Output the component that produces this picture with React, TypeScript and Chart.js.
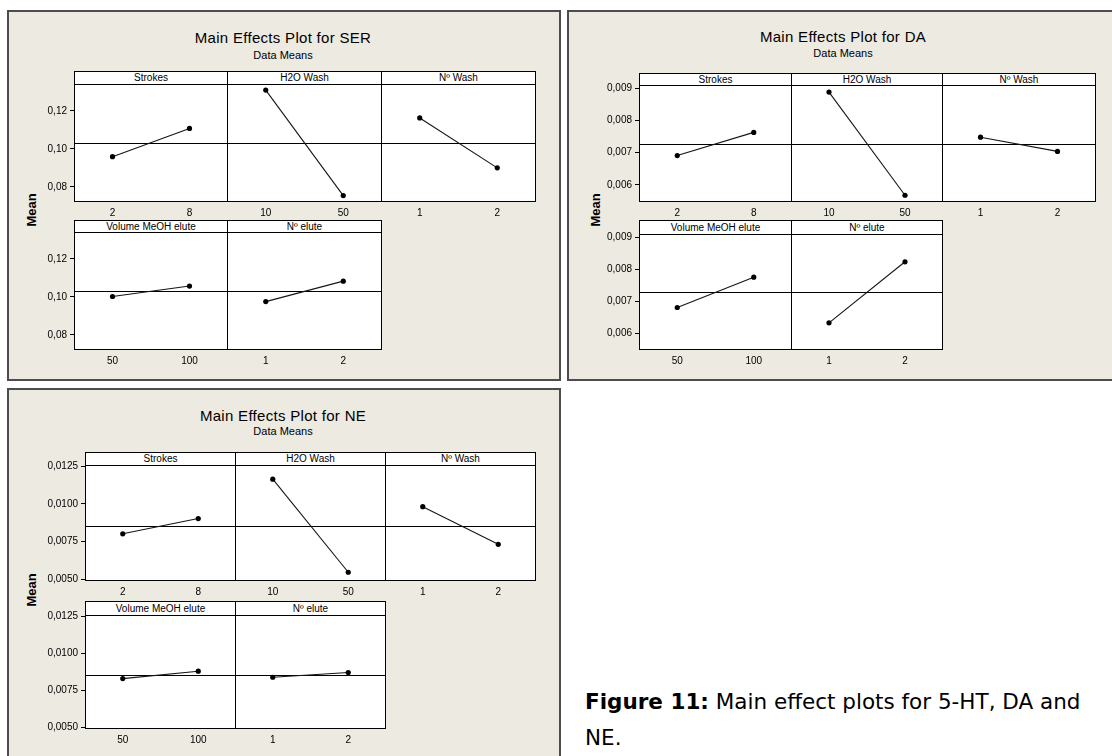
import React, { useEffect, useRef } from 'react';
import { Chart, registerables } from 'chart.js';

Chart.register(...registerables);

// ---------------- data ----------------
const factorNames = ['Strokes', 'H2O Wash', 'Nº Wash', 'Volume MeOH elute', 'Nº elute'];
const strokesLevels = ['2', '8'];
const h2oWashLevels = ['10', '50'];
const nWashLevels = ['1', '2'];
const volumeLevels = ['50', '100'];
const nEluteLevels = ['1', '2'];
const factorLevels = [strokesLevels, h2oWashLevels, nWashLevels, volumeLevels, nEluteLevels];

const serMeans = [
  [0.0959, 0.1108],
  [0.1310, 0.0754],
  [0.1163, 0.0900],
  [0.1002, 0.1057],
  [0.0975, 0.1083],
];
const daMeans = [
  [0.00691, 0.00763],
  [0.00888, 0.00568],
  [0.00748, 0.00704],
  [0.00680, 0.00775],
  [0.00632, 0.00823],
];
const neMeans = [
  [0.00802, 0.00903],
  [0.01164, 0.00547],
  [0.00982, 0.00732],
  [0.00829, 0.00879],
  [0.00838, 0.00870],
];

const serGrandMean = 0.1032;
const daGrandMean = 0.00727;
const neGrandMean = 0.00856;

const serTicks = [0.08, 0.10, 0.12];
const daTicks = [0.006, 0.007, 0.008, 0.009];
const neTicks = [0.0050, 0.0075, 0.0100, 0.0125];

const serRange = [0.0720, 0.1342];
const daRange = [0.00547, 0.00910];
const neRange = [0.00489, 0.01258];

// ---------------- layout ----------------
const TICK_FONT = { family: 'Liberation Sans, Arial, sans-serif', size: 10 };
const Y_W = 60;
const X_H = 20;
const BEIGE = '#EDEAE1';

type Fig = {
  title: string;
  means: number[][];
  grand: number;
  ticks: number[];
  range: number[];
  decimals: number;
  frame: { left: number; top: number; right: number; bottom: number };
  titleX: number;
  titleTop: number;
  subTop: number;
  meanX: number;
  meanY: number;
  colX: number[];
  rows: number[][];
};

const figures: Fig[] = [
  {
    title: 'Main Effects Plot for SER', means: serMeans, grand: serGrandMean, ticks: serTicks, range: serRange, decimals: 2,
    frame: { left: 7, top: 10, right: 561, bottom: 381 },
    titleX: 283, titleTop: 30, subTop: 49.5, meanX: 31, meanY: 210,
    colX: [74, 227, 381, 535], rows: [[71, 84, 201], [220, 232, 349]],
  },
  {
    title: 'Main Effects Plot for DA', means: daMeans, grand: daGrandMean, ticks: daTicks, range: daRange, decimals: 3,
    frame: { left: 567, top: 10, right: 1116, bottom: 381 },
    titleX: 843, titleTop: 28.5, subTop: 48, meanX: 595, meanY: 210,
    colX: [639, 791, 942, 1095], rows: [[73, 85, 201], [220, 234, 349]],
  },
  {
    title: 'Main Effects Plot for NE', means: neMeans, grand: neGrandMean, ticks: neTicks, range: neRange, decimals: 4,
    frame: { left: 7, top: 388, right: 561, bottom: 760 },
    titleX: 283, titleTop: 407.5, subTop: 426, meanX: 31, meanY: 590,
    colX: [85, 235, 385, 535], rows: [[452, 465, 580], [601, 615, 728]],
  },
];

type PanelProps = {
  left: number; top: number; width: number; height: number;
  padTop: number; showY: boolean;
  labels: string[]; values: number[]; grand: number;
  yTicks: number[]; yMin: number; yMax: number; decimals: number;
};

function Panel(p: PanelProps) {
  const ref = useRef<HTMLCanvasElement | null>(null);
  useEffect(() => {
    if (!ref.current) return;
    const grand = p.grand;
    const decor = {
      id: 'panelDecor',
      beforeDraw(chart: any) {
        const { ctx, chartArea: a } = chart;
        ctx.save();
        ctx.fillStyle = '#ffffff';
        ctx.fillRect(a.left, a.top, a.right - a.left, a.bottom - a.top);
        ctx.restore();
      },
      beforeDatasetsDraw(chart: any) {
        const { ctx, chartArea: a } = chart;
        const y = Math.round(chart.scales.y.getPixelForValue(grand)) + 0.5;
        ctx.save();
        ctx.strokeStyle = '#000';
        ctx.lineWidth = 1;
        ctx.beginPath();
        ctx.moveTo(a.left, y);
        ctx.lineTo(a.right, y);
        ctx.stroke();
        ctx.restore();
      },
      afterDraw(chart: any) {
        const { ctx, chartArea: a } = chart;
        ctx.save();
        ctx.strokeStyle = '#000';
        ctx.lineWidth = 1;
        ctx.strokeRect(a.left + 0.5, a.top + 0.5, a.right - a.left - 1, a.bottom - a.top - 1);
        ctx.restore();
      },
    };
    const chart = new Chart(ref.current, {
      type: 'line',
      data: {
        labels: p.labels,
        datasets: [{
          data: p.values,
          borderColor: '#151515',
          borderWidth: 1.1,
          pointRadius: 2.6,
          pointHoverRadius: 2.6,
          pointBackgroundColor: '#000',
          pointBorderWidth: 0,
          fill: false,
          tension: 0,
        }],
      },
      options: {
        animation: false,
        responsive: false,
        devicePixelRatio: 1,
        events: [],
        layout: { autoPadding: false, padding: { top: p.padTop, left: 0, right: 0, bottom: 0 } },
        plugins: { legend: { display: false }, tooltip: { enabled: false }, title: { display: false } },
        scales: {
          x: {
            type: 'category',
            offset: true,
            grid: { display: false, drawTicks: false },
            border: { display: false },
            ticks: { color: '#000', font: TICK_FONT, padding: 5, maxRotation: 0, autoSkip: false },
            afterFit: (s: any) => { s.height = X_H; s.paddingLeft = 0; s.paddingRight = 0; },
          },
          y: {
            type: 'linear',
            display: p.showY,
            min: p.yMin,
            max: p.yMax,
            afterBuildTicks: (s: any) => { s.ticks = p.yTicks.map((v) => ({ value: v })); },
            ticks: {
              color: '#000',
              font: TICK_FONT,
              padding: 3,
              callback: (v: any) => Number(v).toFixed(p.decimals).replace('.', ','),
            },
            grid: { drawOnChartArea: false, drawTicks: true, tickLength: 4, color: '#000' },
            border: { display: false },
            afterFit: (s: any) => { s.width = p.showY ? Y_W : 0; },
          },
        },
      } as any,
      plugins: [decor as any],
    });
    return () => chart.destroy();
  }, []);
  return (
    <canvas
      ref={ref}
      width={p.width}
      height={p.height}
      style={{ position: 'absolute', left: p.left, top: p.top, width: p.width, height: p.height }}
    />
  );
}

function Figure({ f }: { f: Fig }) {
  const items: any[] = [];
  const layout = [
    [0, 1, 2],
    [3, 4],
  ];
  layout.forEach((row, r) => {
    const [stripTop, plotTop, plotBottom] = f.rows[r];
    row.forEach((fi, c) => {
      const x0 = f.colX[c];
      const w = f.colX[c + 1] - x0;
      const isLeft = c === 0;
      items.push(
        <Panel
          key={'p' + fi}
          left={x0 - (isLeft ? Y_W : 0)}
          top={stripTop}
          width={w + 1 + (isLeft ? Y_W : 0)}
          height={plotBottom - stripTop + 1 + X_H}
          padTop={plotTop - stripTop}
          showY={isLeft}
          labels={factorLevels[fi]}
          values={f.means[fi]}
          grand={f.grand}
          yTicks={f.ticks}
          yMin={f.range[0]}
          yMax={f.range[1]}
          decimals={f.decimals}
        />
      );
      items.push(
        <div
          key={'s' + fi}
          style={{
            position: 'absolute', left: x0, top: stripTop, width: w + 1, height: plotTop - stripTop + 1,
            boxSizing: 'border-box', border: '1px solid #000', background: '#fff',
            font: '10px "Liberation Sans", Arial, sans-serif', color: '#000',
            textAlign: 'center', lineHeight: (plotTop - stripTop - 1) + 'px', whiteSpace: 'nowrap', overflow: 'hidden',
          }}
        >
          {factorNames[fi]}
        </div>
      );
    });
  });
  const fr = f.frame;
  return (
    <>
      <div style={{
        position: 'absolute', left: fr.left, top: fr.top, width: fr.right - fr.left, height: fr.bottom - fr.top,
        boxSizing: 'border-box', border: '2px solid #4d4d4d', background: BEIGE,
      }} />
      <div style={{
        position: 'absolute', left: f.titleX - 150, width: 300, top: f.titleTop, textAlign: 'center',
        font: '15px "Liberation Sans", Arial, sans-serif', lineHeight: '15px', color: '#000', letterSpacing: '0.3px',
      }}>{f.title}</div>
      <div style={{
        position: 'absolute', left: f.titleX - 150, width: 300, top: f.subTop, textAlign: 'center',
        font: '11px "Liberation Sans", Arial, sans-serif', lineHeight: '11px', color: '#000',
      }}>Data Means</div>
      <div style={{
        position: 'absolute', left: f.meanX, top: f.meanY, transform: 'translate(-50%, -50%) rotate(-90deg)',
        font: 'bold 13px "Liberation Sans", Arial, sans-serif', color: '#000', whiteSpace: 'nowrap',
      }}>Mean</div>
      {items}
    </>
  );
}

export default function App() {
  return (
    <div style={{ position: 'absolute', left: 0, top: 0, width: 1112, height: 756, background: '#fff', overflow: 'hidden' }}>
      {figures.map((f, i) => <Figure key={i} f={f} />)}
      <div style={{
        position: 'absolute', left: 585, top: 691, font: '21.5px "DejaVu Sans", Verdana, sans-serif',
        lineHeight: '21px', color: '#000', whiteSpace: 'nowrap',
      }}>
        <b>Figure 11:</b> Main effect plots for 5-HT, DA and
      </div>
      <div style={{
        position: 'absolute', left: 585, top: 727, font: '21.5px "DejaVu Sans", Verdana, sans-serif',
        lineHeight: '21px', color: '#000', whiteSpace: 'nowrap',
      }}>
        NE.
      </div>
    </div>
  );
}
